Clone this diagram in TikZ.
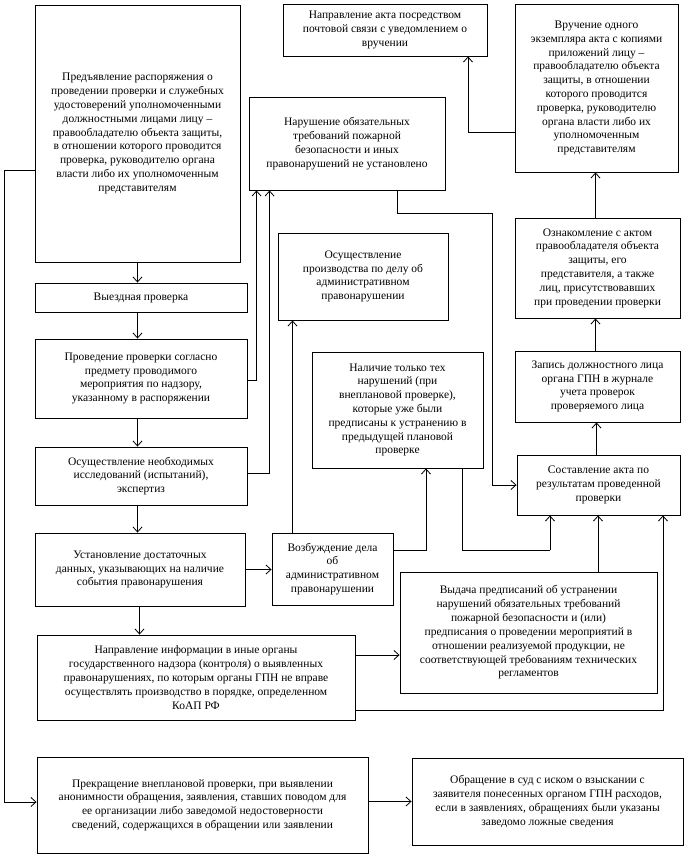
\documentclass[tikz,border=0pt]{standalone}
\usepackage{fontspec}
\setmainfont{Liberation Serif}
\usetikzlibrary{arrows.meta}
\begin{document}
\begin{tikzpicture}[x=1pt,y=-1pt,
  box/.style={draw, line width=0.9pt, align=center, inner sep=2pt,
    font=\fontsize{11.5}{13.8}\selectfont},
  arr/.style={line width=0.8pt, -{Straight Barb[length=5pt,width=9pt]}},
  ln/.style={line width=0.8pt}]
\useasboundingbox (0,0) rectangle (690,862);
\fill[white] (0,0) rectangle (690,862);
% boxes
\node[box, minimum width=205, minimum height=257] (A) at (137.5,133.5) {Предъявление распоряжения о\\проведении проверки и служебных\\удостоверений уполномоченными\\должностными лицами лицу –\\правообладателю объекта защиты,\\в отношении которого проводится\\проверка, руководителю органа\\власти либо их уполномоченным\\представителям};
\node[box, minimum width=204, minimum height=52] (post) at (385,30) {Направление акта посредством\\почтовой связи с уведомлением о\\вручении};
\node[box, minimum width=163, minimum height=168] (vruch) at (596.5,88) {Вручение одного\\экземпляра акта с копиями\\приложений лицу –\\правообладателю объекта\\защиты, в отношении\\которого проводится\\проверка, руководителю\\органа власти либо их\\уполномоченным\\представителям};
\node[box, minimum width=196, minimum height=93] (narush) at (347,143.5) {Нарушение обязательных\\требований пожарной\\безопасности и иных\\правонарушений не установлено};
\node[box, minimum width=212, minimum height=29] (vyezd) at (141,297.5) {Выездная проверка};
\node[box, minimum width=212, minimum height=79] (proved) at (141,378.5) {Проведение проверки согласно\\предмету проводимого\\мероприятия по надзору,\\указанному в распоряжении};
\node[box, minimum width=212, minimum height=58] (issl) at (141,476) {Осуществление необходимых\\исследований (испытаний),\\экспертиз};
\node[box, minimum width=210, minimum height=73] (ustan) at (140,569.5) {Установление достаточных\\данных, указывающих на наличие\\события правонарушения};
\node[box, minimum width=121, minimum height=72] (vozb) at (332.5,569) {Возбуждение дела\\об\\административном\\правонарушении};
\node[box, minimum width=170, minimum height=87] (proizv) at (363,276.5) {Осуществление\\производства по делу об\\административном\\правонарушении};
\node[box, minimum width=171, minimum height=116] (nalich) at (397.5,410) {Наличие только тех\\нарушений (при\\внеплановой проверке),\\которые уже были\\предписаны к устранению в\\предыдущей плановой\\проверке};
\node[box, minimum width=165, minimum height=100] (oznak) at (597.5,268) {Ознакомление с актом\\правообладателя объекта\\защиты, его\\представителя, а также\\лиц, присутствовавших\\при проведении проверки};
\node[box, minimum width=165, minimum height=71] (zapis) at (597.5,386.5) {Запись должностного лица\\органа ГПН в журнале\\учета проверок\\проверяемого лица};
\node[box, minimum width=163, minimum height=60] (sostav) at (598.5,485) {Составление акта по\\результатам проведенной\\проверки};
\node[box, minimum width=257, minimum height=121] (vydacha) at (528.5,632.5) {Выдача предписаний об устранении\\нарушений обязательных требований\\пожарной безопасности и (или)\\предписания о проведении мероприятий в\\отношении реализуемой продукции, не\\соответствующей требованиям технических\\регламентов};
\node[box, minimum width=318, minimum height=85] (napr) at (196,677.5) {Направление информации в иные органы\\государственного надзора (контроля) о выявленных\\правонарушениях, по которым органы ГПН не вправе\\осуществлять производство в порядке, определенном\\КоАП РФ};
\node[box, minimum width=331, minimum height=96] (prekr) at (202.5,805) {Прекращение внеплановой проверки, при выявлении\\анонимности обращения, заявления, ставших поводом для\\ее организации либо заведомой недостоверности\\сведений, содержащихся в обращении или заявлении};
\node[box, minimum width=271, minimum height=87] (obr) at (547.5,801.5) {Обращение в суд с иском о взыскании с\\заявителя понесенных органом ГПН расходов,\\если в заявлениях, обращениях были указаны\\заведомо ложные сведения};
% helper coordinates
\coordinate (k1) at (492,213);
\coordinate (k2) at (550,550);
% left column
\draw[arr] (A.south) -- (A.south |- vyezd.north);
\draw[arr] (A.south |- vyezd.south) -- (A.south |- proved.north);
\draw[arr] (A.south |- proved.south) -- (A.south |- issl.north);
\draw[arr] (A.south |- issl.south) -- (A.south |- ustan.north);
\draw[arr] ([xshift=2pt]A.south |- ustan.south) -- ([xshift=2pt]A.south |- napr.north);
% to narush
\draw[arr] ([yshift=-1.5pt]proved.east) -| ([xshift=8pt]narush.south west);
\draw[arr] ([yshift=3pt]issl.east) -| ([xshift=21pt]narush.south west);
\draw[arr] ([xshift=50pt]narush.south) |- (k1) |- (sostav.west);
% right column
\draw[arr] ([xshift=-2pt]sostav.north) -- ([xshift=-2pt]sostav.north |- zapis.south);
\draw[arr] ([xshift=-2pt]zapis.north) -- ([xshift=-2pt]zapis.north |- oznak.south);
\draw[arr] ([xshift=-2pt]oznak.north) -- ([xshift=-2pt]oznak.north |- vruch.south);
\draw[arr] ([yshift=-44pt]vruch.west) -| ([xshift=83pt]post.south);
% middle
\draw[arr] (ustan.east) -- (ustan.east -| vozb.west);
\draw[arr] ([xshift=-40pt]vozb.north) -- ([xshift=-40pt]vozb.north |- proizv.south);
\draw[arr] ([yshift=19pt]vozb.east) -| ([xshift=28.5pt]nalich.south);
\draw[ln] ([xshift=64.5pt]nalich.south) |- (k2);
\draw[arr] (k2) -- (k2 |- sostav.south);
\draw[arr] ([xshift=69.5pt]vydacha.north) -- ([xshift=69.5pt]vydacha.north |- sostav.south);
\draw[arr] ([yshift=-32.5pt]napr.east) -| ([xshift=64.5pt]sostav.south);
\draw[arr] ([yshift=22.5pt]napr.east) -- ([yshift=22.5pt]napr.east -| vydacha.west);
% bottom
\draw[arr] ([yshift=-36.5pt]A.west) -- ++(-30,0) |- ([yshift=3pt]prekr.west);
\draw[arr] ([yshift=3.5pt]prekr.east) -- ([yshift=3.5pt]prekr.east -| obr.west);
\end{tikzpicture}
\end{document}
